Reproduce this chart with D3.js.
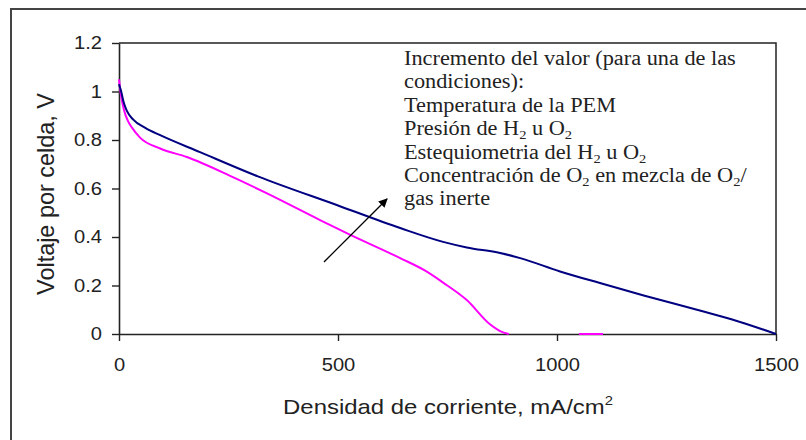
<!DOCTYPE html>
<html><head><meta charset="utf-8">
<script src="https://cdn.jsdelivr.net/npm/d3@7"></script>
<style>
html,body{margin:0;padding:0;background:#fff;}
svg{display:block;}
</style></head>
<body>
<svg id="chart" width="806" height="440"></svg>
<script>
// ---- data ----
const navyX = [0, 5, 10, 18, 32, 60, 94, 185, 317, 500, 642, 740, 794, 870, 916, 1007, 1098, 1200, 1326, 1400, 1500];
const navyY = [1.03, 1.0, 0.96, 0.92, 0.885, 0.85, 0.82, 0.75, 0.65, 0.53, 0.437, 0.38, 0.357, 0.334, 0.313, 0.258, 0.21, 0.158, 0.097, 0.06, 0.0];
const magentaX = [0, 5, 12, 20, 30, 48, 94, 155, 260, 338, 459, 527, 642, 700, 740, 794, 847, 870, 890];
const magentaY = [1.05, 0.98, 0.92, 0.88, 0.85, 0.81, 0.765, 0.73, 0.647, 0.58, 0.47, 0.41, 0.313, 0.26, 0.212, 0.14, 0.04, 0.012, 0.0];
const magentaTailX = [1050, 1105];
const magentaTailY = [0, 0];
const xTicks = [0, 500, 1000, 1500];
const yTicks = [0, 0.2, 0.4, 0.6, 0.8, 1, 1.2];
const yTickLabels = ["0", "0.2", "0.4", "0.6", "0.8", "1", "1.2"];
const arrowFrom = [468, 0.297];
const arrowTo = [612, 0.557];
const xTitle = "Densidad de corriente, mA/cm";
const xTitleSup = "2";
const yTitle = "Voltaje por celda, V";
const noteLines = [
  "Incremento del valor (para una de las",
  "condiciones):",
  "Temperatura de la PEM",
  "Presión de H_2 u O_2",
  "Estequiometria del H_2 u O_2",
  "Concentración de O_2 en mezcla de O_2/",
  "gas inerte"
];

// ---- layout ----
const svg = d3.select("#chart");
const L = 119, R = 776, T = 43, B = 334;
const x = d3.scaleLinear().domain([0, 1500]).range([L, R]);
const y = d3.scaleLinear().domain([0, 1.2]).range([B, T]);
const sx = 1.12; // horizontal stretch of the original picture

svg.append("rect").attr("width", 806).attr("height", 440).attr("fill", "#fff");

// outer frame (only left and top visible)
svg.append("path").attr("d", "M11,440 L11,9 L806,9").attr("fill", "none")
  .attr("stroke", "#444").attr("stroke-width", 2);

// plot frame top/right
svg.append("path").attr("d", `M${L},${T} L${R},${T} L${R},${B}`).attr("fill", "none")
  .attr("stroke", "#222").attr("stroke-width", 1.5);

// axes
const gx = svg.append("g").attr("transform", `translate(0,${B})`)
  .call(d3.axisBottom(x).tickValues(xTicks).tickSize(7).tickSizeOuter(0).tickFormat(d3.format("d")));
const gy = svg.append("g").attr("transform", `translate(${L},0)`)
  .call(d3.axisLeft(y).tickValues(yTicks).tickSize(7).tickSizeOuter(0)
    .tickFormat((d, i) => yTickLabels[i]));
[gx, gy].forEach(g => {
  g.select(".domain").attr("stroke", "#222").attr("stroke-width", 1.6);
  g.selectAll(".tick line").attr("stroke", "#222").attr("stroke-width", 1.4);
  g.selectAll("text").attr("font-family", "Arial, 'Liberation Sans', sans-serif")
    .attr("font-size", 18).attr("fill", "#222");
});
gx.selectAll("text").attr("y", 24).attr("transform", `scale(${sx},1)`);
gy.selectAll("text").attr("x", -17 / sx).attr("transform", `scale(${sx},1)`);

// lines
const line = d3.line().x(d => x(d[0])).y(d => y(d[1])).curve(d3.curveMonotoneX);
const seriesPts = (xs, ys) => xs.map((v, i) => [v, ys[i]]);
svg.append("path").datum(seriesPts(magentaX, magentaY)).attr("d", line)
  .attr("fill", "none").attr("stroke", "#ff00ff").attr("stroke-width", 2);
svg.append("path").datum(seriesPts(magentaTailX, magentaTailY)).attr("d", line)
  .attr("fill", "none").attr("stroke", "#ff00ff").attr("stroke-width", 2);
svg.append("path").datum(seriesPts(navyX, navyY)).attr("d", line)
  .attr("fill", "none").attr("stroke", "#000080").attr("stroke-width", 2);

// arrow
const defs = svg.append("defs");
defs.append("marker").attr("id", "ah").attr("viewBox", "0 0 10 10")
  .attr("refX", 9).attr("refY", 5).attr("markerWidth", 9).attr("markerHeight", 9)
  .attr("markerUnits", "userSpaceOnUse").attr("orient", "auto")
  .append("path").attr("d", "M0,0 L10,5 L0,10 z").attr("fill", "#000");
svg.append("line")
  .attr("x1", x(arrowFrom[0])).attr("y1", y(arrowFrom[1]))
  .attr("x2", x(arrowTo[0])).attr("y2", y(arrowTo[1]))
  .attr("stroke", "#000").attr("stroke-width", 1.3).attr("marker-end", "url(#ah)");

// helper: stretch text to target width
function fitWidth(sel, target) {
  const w = sel.node().getComputedTextLength();
  return target / w;
}

// x title
const xt = svg.append("text").attr("text-anchor", "middle")
  .attr("font-family", "Arial, 'Liberation Sans', sans-serif").attr("font-size", 21).attr("fill", "#222");
xt.append("tspan").text(xTitle);
xt.append("tspan").text(xTitleSup).attr("font-size", 13).attr("dy", -9);
let k = fitWidth(xt, 330);
xt.attr("transform", `translate(448,414) scale(${k},1)`);

// y title
const yt = svg.append("text").attr("text-anchor", "middle")
  .attr("font-family", "Arial, 'Liberation Sans', sans-serif").attr("font-size", 21).attr("fill", "#222")
  .text(yTitle);
k = fitWidth(yt, 202);
yt.attr("transform", `translate(54,194) rotate(-90) scale(${k},${sx})`);

// note text
const note = svg.append("g");
const noteTexts = noteLines.map((s, i) => {
  const t = note.append("text").attr("x", 0).attr("y", 0)
    .attr("font-family", "'Times New Roman', 'Liberation Serif', serif")
    .attr("font-size", 20).attr("fill", "#222");
  const parts = s.split(/_(\d)/);
  parts.forEach((p, j) => {
    if (j % 2 === 0) { if (p) t.append("tspan").text(p).attr("dy", j > 0 ? -4 : 0); }
    else t.append("tspan").text(p).attr("font-size", 13).attr("dy", 4);
  });
  return t;
});
const ks = fitWidth(noteTexts[0], 332);
noteTexts.forEach((t, i) => t.attr("transform", `translate(404,${65 + i * 23.4}) scale(${ks},1)`));
</script>
</body></html>
